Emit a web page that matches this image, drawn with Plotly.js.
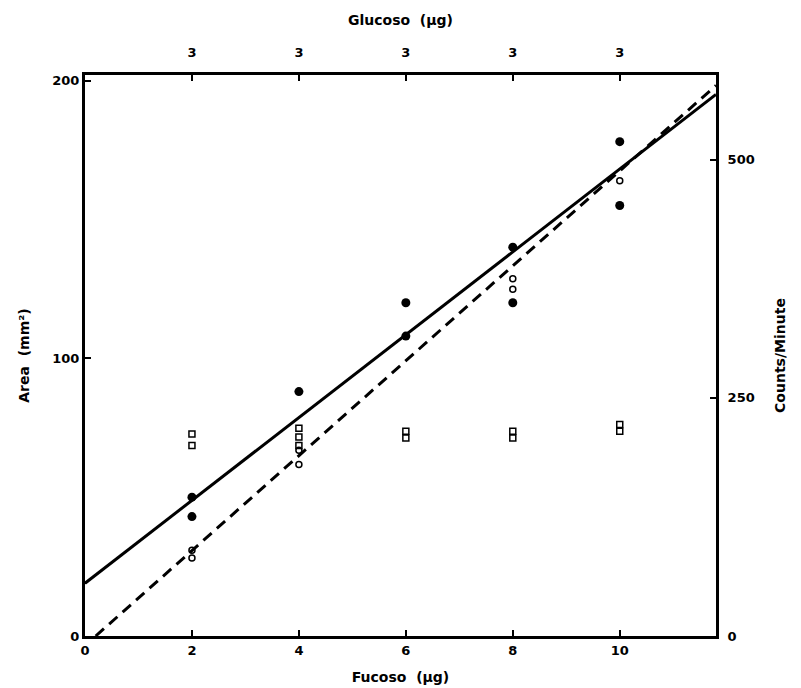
<!DOCTYPE html>
<html><head><meta charset="utf-8">
<script src="https://cdn.plot.ly/plotly-3.0.1.min.js"></script>
<style>body{margin:0;background:#fff}#c{width:801px;height:688px}</style>
</head><body><div id="c"></div>
<script>
// Fucose (µg) for area measurements (filled circles, left axis, mm²)
const areaX = [2, 2, 4, 6, 6, 8, 8, 10, 10];
const areaY = [50, 43, 88, 120, 108, 140, 120, 178, 155];
// Fucose counts/minute (open circles, right axis)
const fucCountX = [2, 2, 4, 4, 8, 8, 10];
const fucCountY = [90, 82, 195, 180, 375, 364, 478];
// Glucose counts/minute (open squares, right axis)
const gluCountX = [2, 2, 4, 4, 4, 6, 6, 8, 8, 10, 10];
const gluCountY = [212, 200, 218, 209, 200, 215, 208, 215, 208, 222, 215];
// Fitted lines
const areaFitX = [0, 11.8];
const areaFitY = [19, 195];
const countFitX = [0.2, 11.8];
const countFitY = [0, 578];
// Axis ticks
const xTicks = [0, 2, 4, 6, 8, 10];
const topTicks = [2, 4, 6, 8, 10];
const topTickText = ["3", "3", "3", "3", "3"];
const leftTicks = [0, 100, 200];
const rightTicks = [0, 250, 500];

const F = {family: "DejaVu Sans, Arial, sans-serif", color: "#000"};
const traces = [
  {x: areaFitX, y: areaFitY, mode: "lines", line: {color: "#000", width: 3}, xaxis: "x", yaxis: "y"},
  {x: countFitX, y: countFitY, mode: "lines", line: {color: "#000", width: 3, dash: "11px,7px"}, xaxis: "x", yaxis: "y2"},
  {x: areaX, y: areaY, mode: "markers", marker: {symbol: "circle", size: 9, color: "#000"}, xaxis: "x", yaxis: "y"},
  {x: fucCountX, y: fucCountY, mode: "markers", marker: {symbol: "circle-open", size: 6, color: "#000", line: {width: 1.5}}, xaxis: "x", yaxis: "y2"},
  {x: gluCountX, y: gluCountY, mode: "markers", marker: {symbol: "square-open", size: 6, color: "#000", line: {width: 1.5}}, xaxis: "x", yaxis: "y2"},
  {x: [0], y: [0], mode: "markers", marker: {opacity: 0}, xaxis: "x2", yaxis: "y"}
];
const tf = Object.assign({size: 13, weight: "bold"}, F);
const ttf = Object.assign({size: 14, weight: "bold"}, F);
const axBase = {showgrid: false, zeroline: false, showline: true, linecolor: "#000", linewidth: 3,
  ticks: "inside", ticklen: 6, tickwidth: 2, tickcolor: "#000", tickfont: tf};
const layout = {
  width: 801, height: 688, paper_bgcolor: "#fff", plot_bgcolor: "#fff", showlegend: false,
  margin: {l: 85, r: 85, t: 75, b: 52},
  xaxis: Object.assign({}, axBase, {range: [0, 11.8], tickvals: xTicks,
    title: {text: "Fucoso  (µg)", font: ttf, standoff: 16}}),
  xaxis2: Object.assign({}, axBase, {range: [0, 11.8], overlaying: "x", side: "top", tickvals: topTicks, ticktext: topTickText,
    ticklabelstandoff: 10, title: {text: "Glucoso  (µg)", font: ttf, standoff: 16}}),
  yaxis: Object.assign({}, axBase, {range: [0, 202], tickvals: leftTicks,
    title: {text: "Area  (mm²)", font: ttf, standoff: 20}}),
  yaxis2: Object.assign({}, axBase, {range: [0, 589], overlaying: "y", side: "right", tickvals: rightTicks,
    ticklabelstandoff: 6, title: {text: "Counts/Minute", font: ttf, standoff: 22}})
};
Plotly.newPlot("c", traces, layout, {staticPlot: true});
</script></body></html>
